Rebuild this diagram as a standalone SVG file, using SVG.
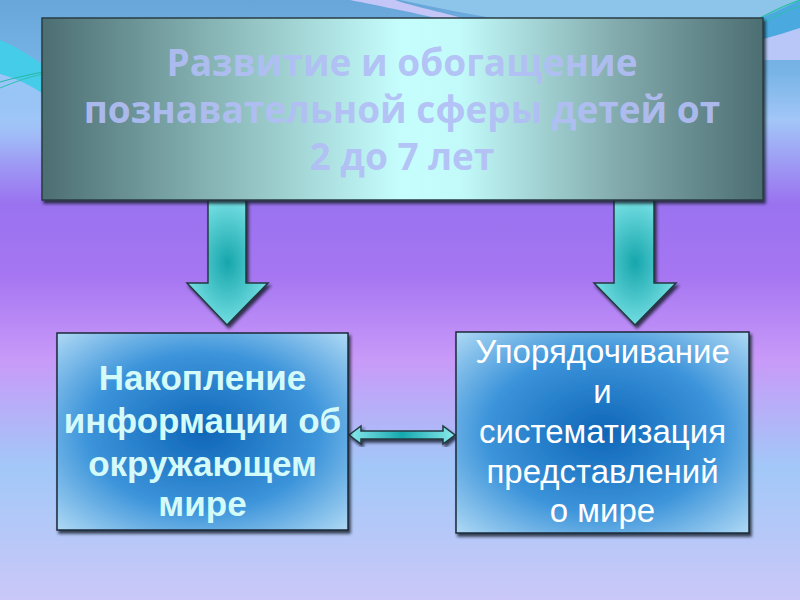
<svg xmlns="http://www.w3.org/2000/svg" width="800" height="600" viewBox="0 0 800 600">
<defs>
<linearGradient id="bg" x1="0" y1="0" x2="0" y2="1">
<stop offset="0" stop-color="#68a6da"/>
<stop offset="0.12" stop-color="#78b4e6"/>
<stop offset="0.2" stop-color="#a2c6f8"/>
<stop offset="0.34" stop-color="#9a72f0"/>
<stop offset="0.46" stop-color="#a676f2"/>
<stop offset="0.6" stop-color="#c89af8"/>
<stop offset="0.78" stop-color="#a2c8f8"/>
<stop offset="1" stop-color="#cac8f8"/>
</linearGradient>
<linearGradient id="topbox" x1="0" y1="0" x2="1" y2="0">
<stop offset="0" stop-color="#4c6e72"/>
<stop offset="0.25" stop-color="#8ab8b8"/>
<stop offset="0.5" stop-color="#c6fefe"/>
<stop offset="0.58" stop-color="#c2fafa"/>
<stop offset="0.8" stop-color="#82aaac"/>
<stop offset="1" stop-color="#4c6e72"/>
</linearGradient>
<radialGradient id="arrowfill" cx="0.5" cy="0.5" r="0.6">
<stop offset="0" stop-color="#16a6ac"/>
<stop offset="1" stop-color="#84e8ec"/>
</radialGradient>
<linearGradient id="harrow" x1="0" y1="0" x2="1" y2="0">
<stop offset="0" stop-color="#8aeaec"/>
<stop offset="0.5" stop-color="#16a8ae"/>
<stop offset="1" stop-color="#8aeaec"/>
</linearGradient>
<radialGradient id="boxfill" cx="0.5" cy="0.5" r="0.72">
<stop offset="0" stop-color="#0f66b8"/>
<stop offset="0.55" stop-color="#3c94da"/>
<stop offset="1" stop-color="#b4dcf6"/>
</radialGradient>
<linearGradient id="leftband" x1="0" y1="0" x2="0" y2="1">
<stop offset="0" stop-color="#9cc6f8"/>
<stop offset="1" stop-color="#9cc6f8" stop-opacity="0"/>
</linearGradient>
<filter id="shadow" x="-10%" y="-10%" width="125%" height="125%">
<feDropShadow dx="2" dy="3" stdDeviation="1.5" flood-color="#101828" flood-opacity="0.8"/>
</filter>
</defs>
<style>
.title{font-family:"Open Sans","DejaVu Sans",sans-serif;font-weight:bold;font-size:37px;fill:#b2bef6;fill-opacity:0.92;text-anchor:middle}
.ltxt{font-family:"Liberation Sans",Arial,sans-serif;font-weight:bold;font-size:35px;fill:#d4fafa;text-anchor:middle}
.rtxt{font-family:"Liberation Sans",Arial,sans-serif;font-size:33px;fill:#ffffff;text-anchor:middle}
.edge{stroke:#243840;stroke-width:1.5}
</style>
<rect width="800" height="600" fill="url(#bg)"/>
<g id="decor">
<path d="M400 0 C 520 25 640 50 800 14 L 800 0 Z" fill="#8cc4ea"/>
<path d="M350 0 C 380 6 420 14 445 20 L 470 20 C 440 12 405 4 395 0 Z" fill="#c4c6f8"/>
<path d="M0 40 C 20 48 35 60 45 66 L 45 95 C 30 85 15 78 0 74 Z" fill="#44cce8"/>
<path d="M0 74 C 15 78 30 85 45 95 L 45 160 L 0 160 Z" fill="url(#leftband)"/>
<path d="M0 82 C 15 78 30 74 45 72" fill="none" stroke="#2ab8a8" stroke-width="1.2"/>
<path d="M0 88 C 15 82 30 76 45 74" fill="none" stroke="#30c0b0" stroke-width="1"/>
<path d="M760 18 C 775 12 788 6 800 0 L 800 28 C 788 32 775 36 760 40 Z" fill="#4aaae0"/>
<path d="M760 40 C 775 36 788 32 800 28 L 800 60 L 760 60 Z" fill="#b8c6f8"/>
<path d="M760 18 C 775 10 788 4 800 0" fill="none" stroke="#30c0a8" stroke-width="1.2"/>
<path d="M760 24 C 775 16 788 10 800 6" fill="none" stroke="#30c0a8" stroke-width="1"/>
</g>
<g id="connectors">
<polygon class="edge" points="208,200 246,200 246,283 268,283 227,325 187,283 208,283" fill="url(#arrowfill)" filter="url(#shadow)"/>
<polygon class="edge" points="614,200 654,200 654,283 676,283 635,325 594,283 614,283" fill="url(#arrowfill)" filter="url(#shadow)"/>
<polygon class="edge" points="349,435 361,426 361,431 443,431 443,426 455,435 443,444 443,439 361,439 361,444" fill="url(#harrow)" filter="url(#shadow)"/>
</g>
<g id="node-top">
<rect x="42" y="18" width="721" height="182" fill="url(#topbox)" stroke="#2a3c44" stroke-width="1.5" filter="url(#shadow)"/>
<text class="title" x="402" y="76">Развитие и обогащение</text>
<text class="title" x="402" y="123">познавательной сферы детей от</text>
<text class="title" x="402" y="170">2 до 7 лет</text>
</g>
<g id="node-left">
<rect x="57" y="333" width="291" height="197" fill="url(#boxfill)" stroke="#1c2a3a" stroke-width="1.5" filter="url(#shadow)"/>
<text class="ltxt" x="202.5" y="390">Накопление</text>
<text class="ltxt" x="202.5" y="433">информации об</text>
<text class="ltxt" x="202.5" y="476">окружающем</text>
<text class="ltxt" x="202.5" y="516">мире</text>
</g>
<g id="node-right">
<rect x="456" y="332" width="293" height="201" fill="url(#boxfill)" stroke="#1c2a3a" stroke-width="1.5" filter="url(#shadow)"/>
<text class="rtxt" x="602.5" y="363">Упорядочивание</text>
<text class="rtxt" x="602.5" y="403">и</text>
<text class="rtxt" x="602.5" y="443">систематизация</text>
<text class="rtxt" x="602.5" y="483">представлений</text>
<text class="rtxt" x="602.5" y="522">о мире</text>
</g>
</svg>
